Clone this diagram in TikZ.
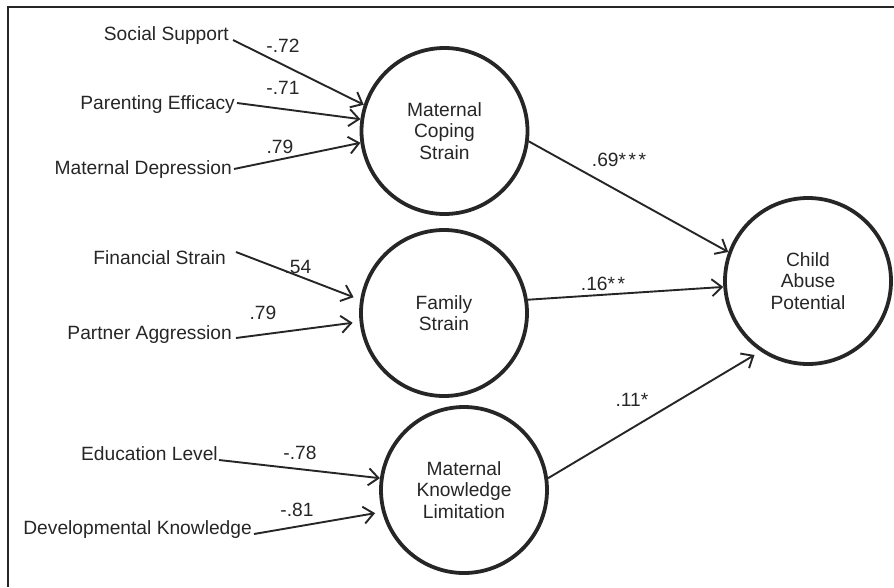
\documentclass[tikz,border=0pt]{standalone}
\usepackage{fontspec}
\setmainfont{Liberation Sans}
\usetikzlibrary{arrows.meta, calc}

\begin{document}
\begin{tikzpicture}[
  x=1pt, y=-1pt,
  every node/.style={text=black!85},
  latent/.style={draw=black!85, circle, line width=3.8pt, minimum size=166pt, inner sep=0pt, align=center, font=\fontsize{19.2}{21.5}\selectfont},
  obs/.style={anchor=base east, inner sep=0pt, font=\fontsize{19.2}{21.5}\selectfont},
  coef/.style={inner sep=0pt, font=\fontsize{19.2}{21.5}\selectfont},
  link/.style={draw=black!85, line width=1.9pt, -{Straight Barb[length=10pt, width=17pt, line width=1.9pt]}},
]
\useasboundingbox (0,0) rectangle (894,587);
\draw[black!85, line width=2pt] (8,587) -- (8,7) -- (894,7);

% latent variables
\node[latent] (cope) at (444.5,131) {Maternal\\Coping\\Strain};
\node[latent] (fam) at (444,313) {Family\\Strain};
\node[latent] (know) at (464,490) {Maternal\\Knowledge\\Limitation};
\node[latent] (cap) at (808,281) {Child\\Abuse\\Potential};

% observed indicators
\node[obs] (ss) at (229,40) {Social Support};
\node[obs] (pe) at (235,109) {Parenting Efficacy};
\node[obs] (md) at (232,174) {Maternal Depression};
\node[obs] (fs) at (226,264) {Financial Strain};
\node[obs] (pa) at (232,339) {Partner Aggression};
\node[obs] (el) at (218,460) {Education Level};
\node[obs] (dk) at (252,534) {Developmental Knowledge};

\draw[link] ($(ss.base east)+(4,0)$) -- (cope.162.7);
\draw[link] ($(pe.base east)+(2,-6)$) -- (cope.172.5);
\draw[link] ($(md.base east)+(2,-5)$) -- (cope.188.2);
\draw[link, shorten >=7pt] ($(fs.base east)+(10,-12)$) -- (fam.171.3);
\draw[link, shorten >=7pt] ($(pa.base east)+(4,-1)$) -- (fam.186.2);
\draw[link] ($(el.base east)+(1,0)$) -- (know.172.8);
\draw[link, shorten >=7pt] ($(dk.base east)+(2,0)$) -- (know.195.7);

\draw[link] (cope.353.8) -- (cap.160.5);
\draw[link] (fam.9.6) -- (cap.184.7);
\draw[link, shorten >=7pt] (know.8) -- (cap.236.5);

% loadings and path coefficients
\node[coef] (lss) at (283,46) {-.72};
\node[coef] (lpe) at (283,88) {-.71};
\node[coef] (lmd) at (280,147) {.79};
\node[coef] (lfs) at (298,267) {.54};
\node[coef] (lpa) at (263,313) {.79};
\node[coef] (lel) at (300,453) {-.78};
\node[coef] (ldk) at (297,510) {-.81};
\node[coef] (lcope) at (619,160) {.69*\kern2.5pt*\kern2.5pt*};
\node[coef] (lfam) at (603,284) {.16*\kern2.5pt*};
\node[coef] (lknow) at (632,400) {.11*};
\end{tikzpicture}
\end{document}
